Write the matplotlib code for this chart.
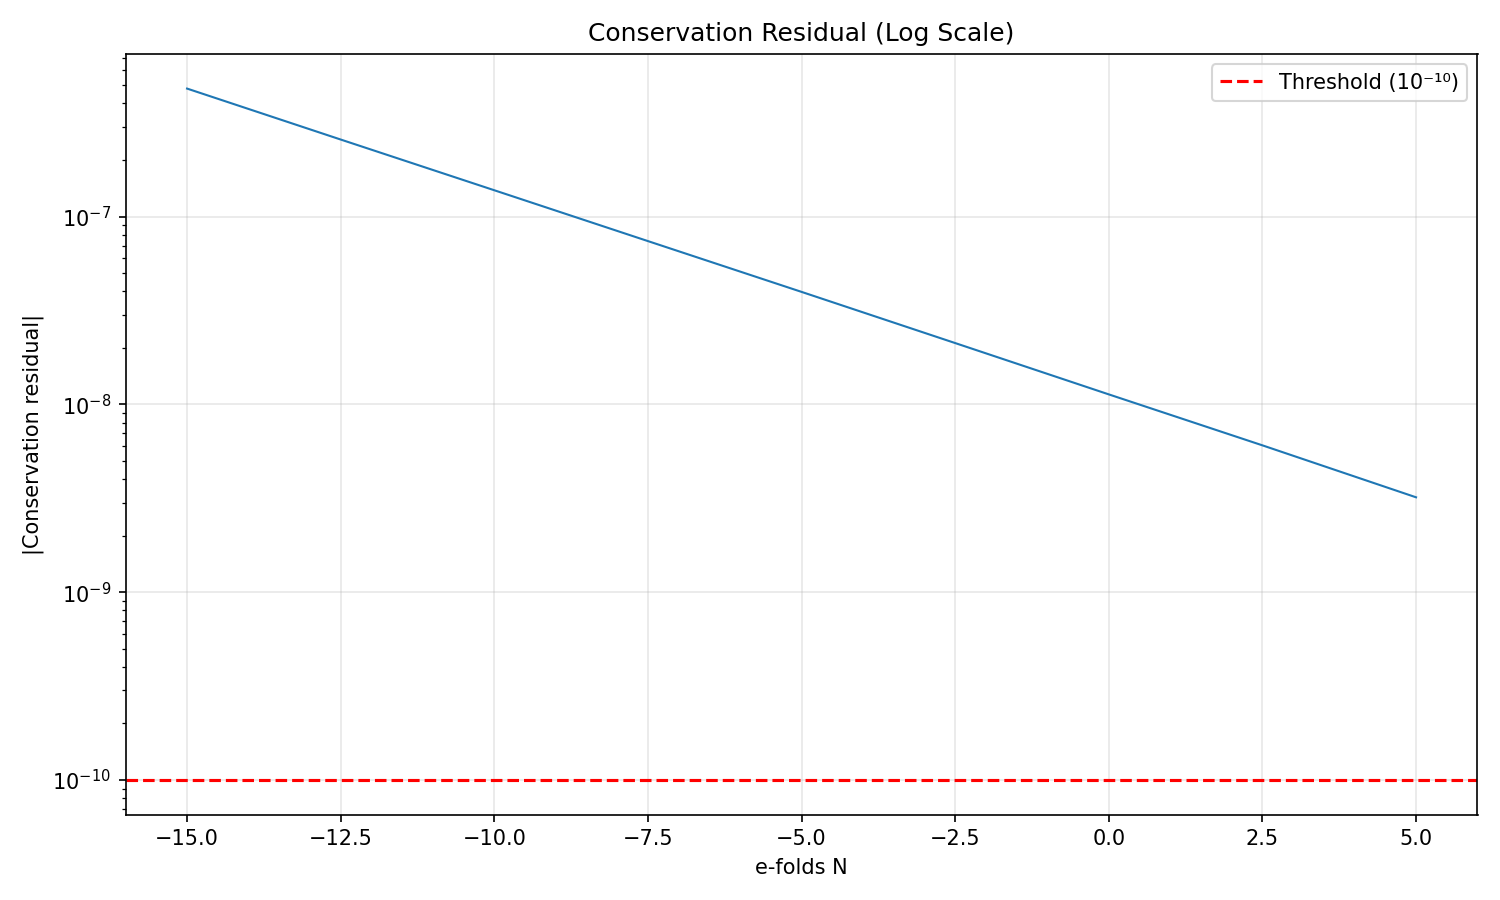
import matplotlib
matplotlib.use('Agg')
import matplotlib.pyplot as plt

# e-folds and residual values
efolds = [-15.0, -12.5, -10.0, -7.5, -5.0, -2.5, 0.0, 2.5, 5.0]
residual = [4.8e-7, 2.57e-7, 1.38e-7, 7.4e-8, 3.97e-8, 2.12e-8, 1.13e-8, 6.05e-9, 3.2e-9]
threshold = 1e-10

plt.figure(figsize=(10, 6), dpi=150)
plt.semilogy(efolds, residual, linewidth=1)
plt.axhline(threshold, color='r', linestyle='--', label='Threshold (10⁻¹⁰)')

plt.xlabel('e-folds N')
plt.ylabel('|Conservation residual|')
plt.title('Conservation Residual (Log Scale)')
plt.grid(True, alpha=0.3)
plt.legend()
plt.tight_layout()
plt.savefig('out.png')
